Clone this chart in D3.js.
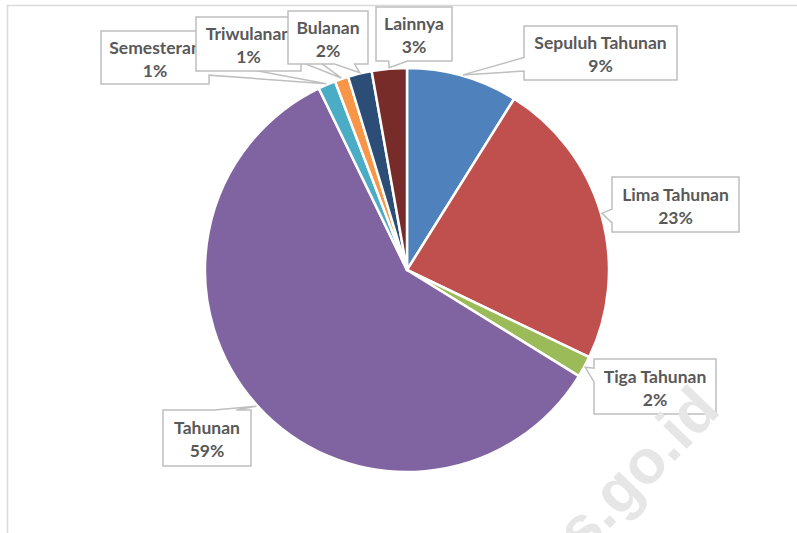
<!doctype html>
<html>
<head>
<meta charset="UTF-8">
<title>Pie</title>
<style>
  body { margin: 0; background: #fff; }
  svg { display: block; }
</style>
</head>
<body>
<div id="chart"></div>
<script src="https://cdn.jsdelivr.net/npm/d3@7/dist/d3.min.js"></script>
<script>
var categories = ["Sepuluh Tahunan", "Lima Tahunan", "Tiga Tahunan", "Tahunan", "Semesteran", "Triwulanan", "Bulanan", "Lainnya"];
var values = [8.9, 23.2, 1.7, 59.0, 1.4, 1.1, 1.9, 2.8];
var colors = ["#4f81bd", "#c0504d", "#9bbb59", "#8064a2", "#4bacc6", "#f79646", "#2c4d75", "#772c2a"];

// label boxes were dragged by hand in the original: [x, y, w, h]
var labelBoxes = [
  [524, 26, 153, 54],
  [612, 177, 127, 55],
  [594, 359, 122, 55],
  [163, 410, 88, 56],
  [101, 31, 108, 53],
  [196, 17, 105, 54],
  [288, 11, 80, 53],
  [376, 7, 76, 54]
];

var width = 797, height = 533;
var cx = 407, cy = 270, radius = 202;

var svg = d3.select("#chart").append("svg")
  .attr("width", width)
  .attr("height", height);

// chart area frame
svg.append("rect")
  .attr("x", 7.5).attr("y", 5.5)
  .attr("width", 820).attr("height", 560)
  .attr("fill", "none")
  .attr("stroke", "#d9d9d9")
  .attr("stroke-width", 1.5);

var total = d3.sum(values);
var pct = d3.format(".0%");

var pie = d3.pie().sort(null).value(function(d) { return d; });
var arcs = pie(values);
var arc = d3.arc().innerRadius(0).outerRadius(radius);

var g = svg.append("g").attr("transform", "translate(" + cx + "," + cy + ")");
g.selectAll("path")
  .data(arcs)
  .enter().append("path")
  .attr("d", arc)
  .attr("fill", function(d, i) { return colors[i]; })
  .attr("stroke", "#fff")
  .attr("stroke-width", 2.5)
  .attr("stroke-linejoin", "round");

// rectangle callout with a wedge, same rules as office's wedgeRectCallout
function callout(x, y, w, h, tx, ty) {
  var l = x, t = y, r = x + w, b = y + h;
  var hc = x + w / 2, vc = y + h / 2;
  var dxPos = tx - hc, dyPos = ty - vc;
  var dq = dxPos * h / w;
  var dz = Math.abs(dyPos) - Math.abs(dq);
  var x1 = l + w * (dxPos > 0 ? 7 : 2) / 12;
  var x2 = l + w * (dxPos > 0 ? 10 : 5) / 12;
  var y1 = t + h * (dyPos > 0 ? 7 : 2) / 12;
  var y2 = t + h * (dyPos > 0 ? 10 : 5) / 12;
  var xl = dz > 0 ? l : (dxPos > 0 ? l : tx);
  var yl = dz > 0 ? y1 : (dxPos > 0 ? y1 : ty);
  var xt = dz > 0 ? (dyPos > 0 ? x1 : tx) : x1;
  var yt = dz > 0 ? (dyPos > 0 ? t : ty) : t;
  var xr = dz > 0 ? r : (dxPos > 0 ? tx : r);
  var yr = dz > 0 ? y1 : (dxPos > 0 ? ty : y1);
  var xb = dz > 0 ? (dyPos > 0 ? tx : x1) : x1;
  var yb = dz > 0 ? (dyPos > 0 ? ty : b) : b;
  var p = d3.path();
  p.moveTo(l, t);
  p.lineTo(x1, t); p.lineTo(xt, yt); p.lineTo(x2, t); p.lineTo(r, t);
  p.lineTo(r, y1); p.lineTo(xr, yr); p.lineTo(r, y2); p.lineTo(r, b);
  p.lineTo(x2, b); p.lineTo(xb, yb); p.lineTo(x1, b); p.lineTo(l, b);
  p.lineTo(l, y2); p.lineTo(xl, yl); p.lineTo(l, y1);
  p.closePath();
  return p.toString();
}

var labels = svg.append("g").attr("class", "labels");
arcs.forEach(function(a, i) {
  var box = labelBoxes[i];
  var mid = (a.startAngle + a.endAngle) / 2;
  var tx = cx + (radius + 1) * Math.sin(mid);
  var ty = cy - (radius + 1) * Math.cos(mid);
  var lg = labels.append("g");
  lg.append("path")
    .attr("d", callout(box[0], box[1], box[2], box[3], tx, ty))
    .attr("fill", "#fff")
    .attr("stroke", "#bfbfbf")
    .attr("stroke-width", 1.5)
    .attr("stroke-linejoin", "miter");
  var mx = box[0] + box[2] / 2, my = box[1] + box[3] / 2;
  var txt = lg.append("text")
    .attr("x", mx)
    .attr("text-anchor", "middle")
    .attr("font-family", "Lato, 'Open Sans', sans-serif")
    .attr("font-weight", "bold")
    .attr("font-size", "17.5px")
    .attr("fill", "#595959");
  txt.append("tspan").attr("x", mx).attr("y", my - 4).text(categories[i]);
  txt.append("tspan").attr("x", mx).attr("y", my + 19).text(pct(values[i] / total));
});

// faint site watermark
svg.append("text")
  .attr("transform", "translate(722,412) rotate(-46)")
  .attr("text-anchor", "end")
  .attr("font-family", "'Liberation Sans', Arial, sans-serif")
  .attr("font-weight", "bold")
  .attr("font-size", "62px")
  .attr("fill", "#e6e6e6")
  .text("bps.go.id");
</script>
</body>
</html>
